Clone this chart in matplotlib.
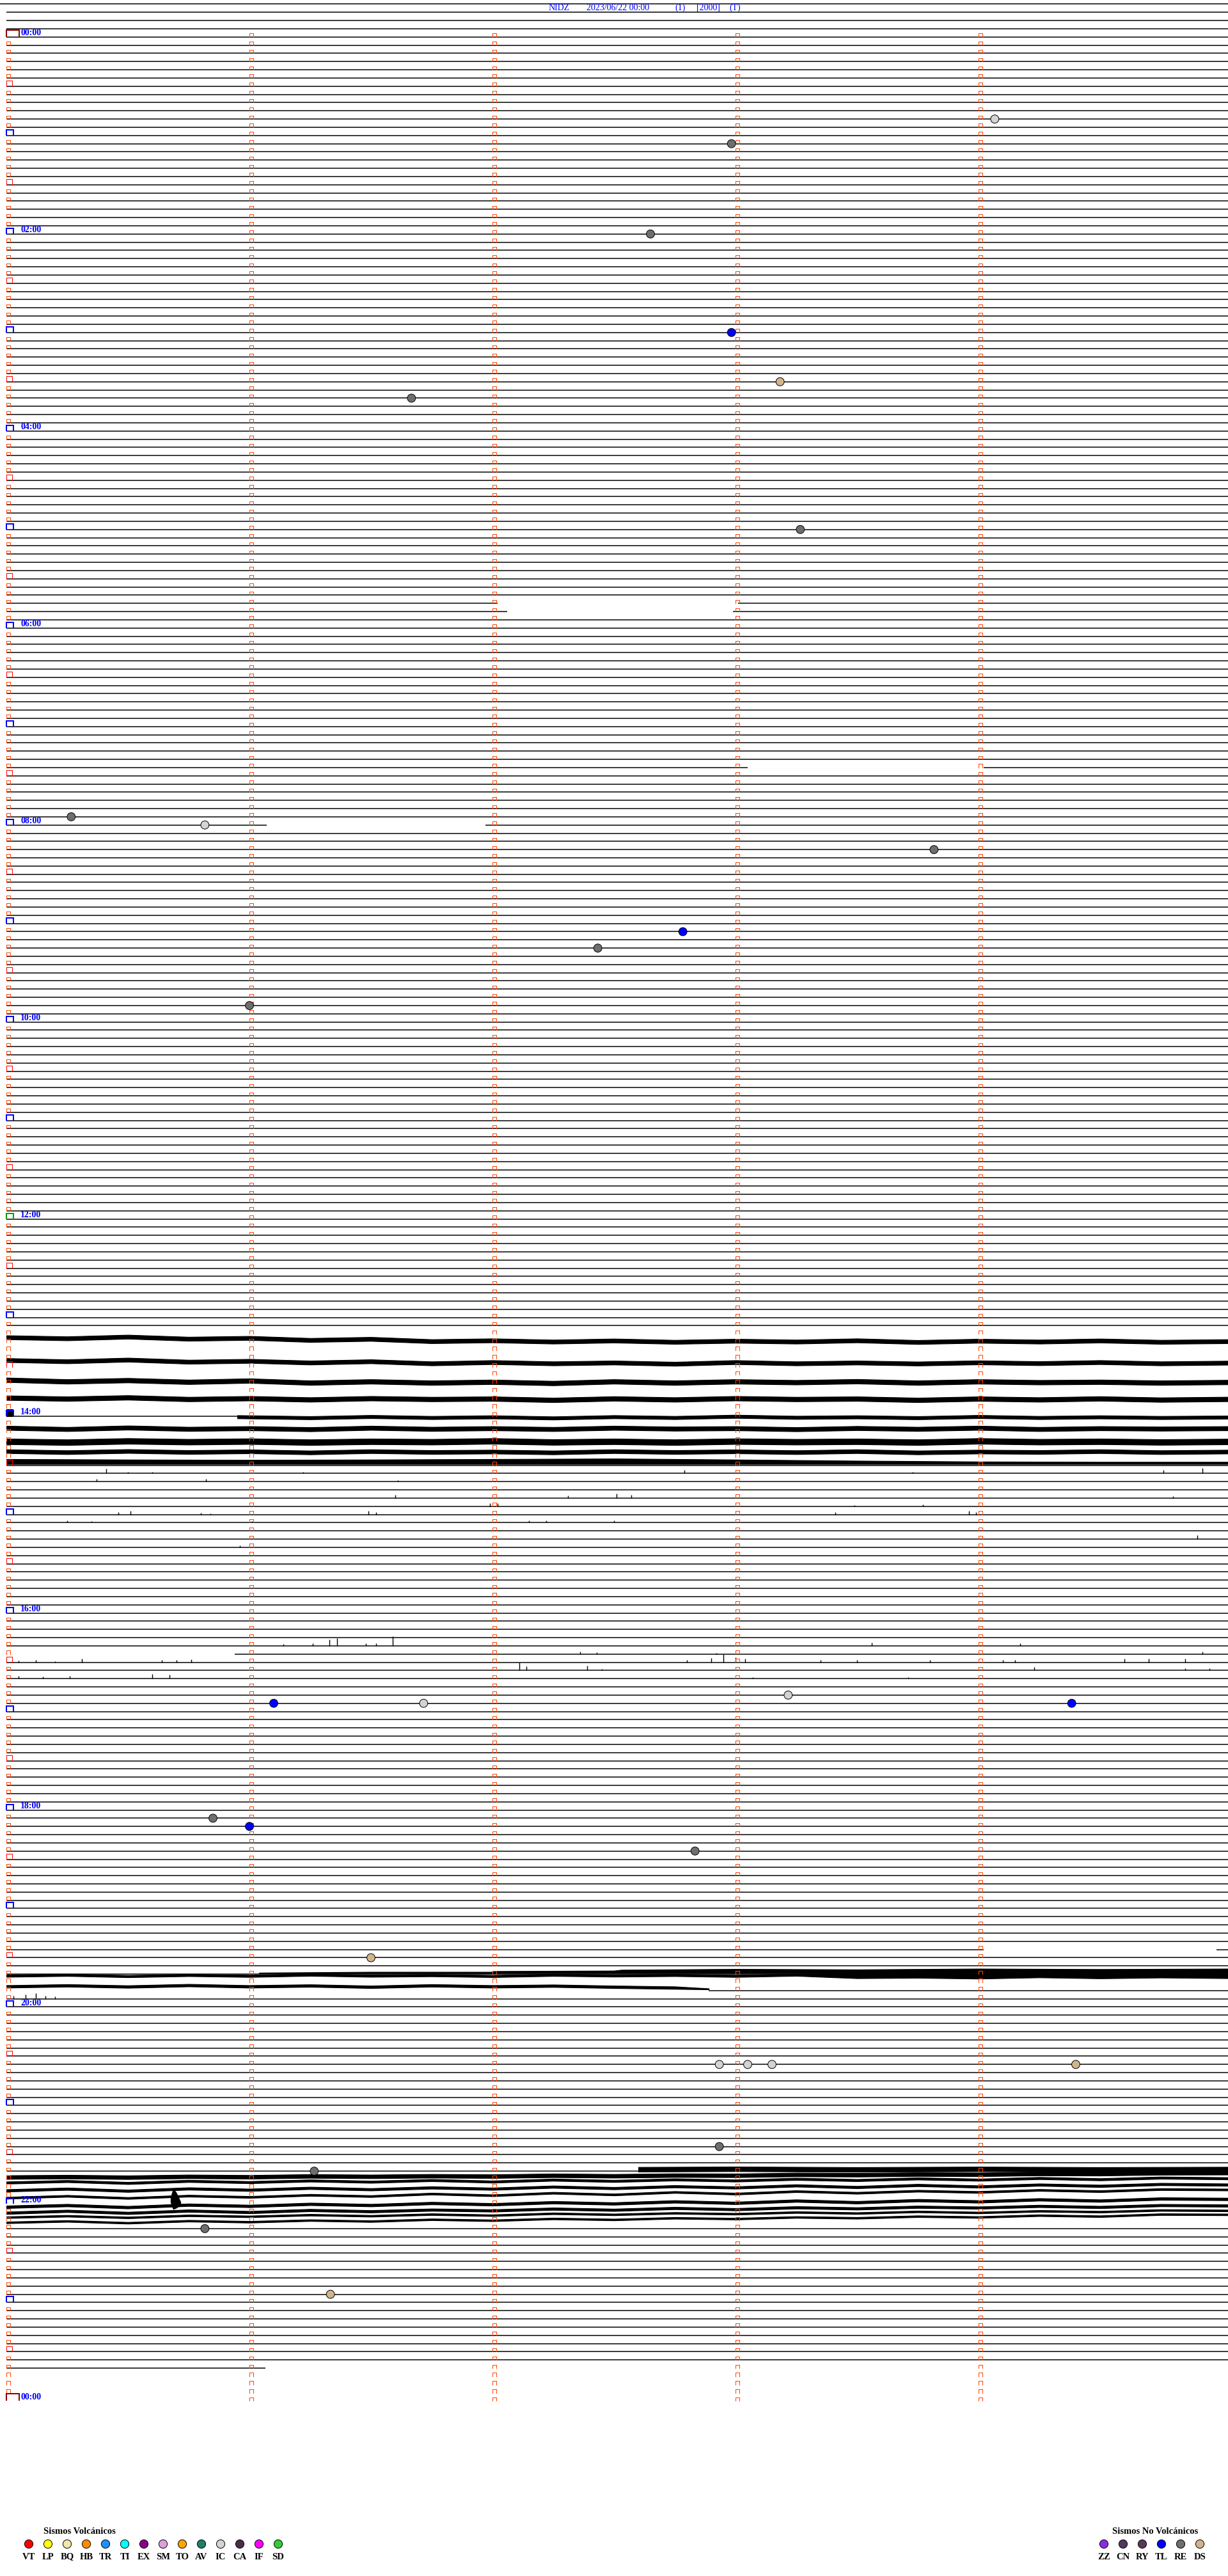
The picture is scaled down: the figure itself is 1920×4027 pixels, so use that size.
import matplotlib
matplotlib.use("Agg")
import matplotlib.pyplot as plt
from matplotlib.collections import LineCollection
import numpy as np

# ======================= DATA =======================
TITLE_ITEMS = ["NIDZ", "2023/06/22 00:00", "(1)", "[2000]", "(T)"]

MIN_PER_LINE = 5
TRACE_FIRST = "-00:20"      # first drawn trace line (previous day 23:40)
TRACE_LAST = "23:40"        # last trace line with data
DATA_END = "23:41:04"       # end of data on the last line
MARK_FIRST = "00:00"
MARK_LAST = "24:00"
HOUR_LABEL_TIMES = ["00:00", "02:00", "04:00", "06:00", "08:00", "10:00", "12:00",
                    "14:00", "16:00", "18:00", "20:00", "22:00", "24:00"]
HOUR_LABEL_TEXT = ["00:00", "02:00", "04:00", "06:00", "08:00", "10:00", "12:00",
                   "14:00", "16:00", "18:00", "20:00", "22:00", "00:00"]

# data gaps: (line time, start minute, end minute)
GAPS = [("05:45", 2.02, 3.01), ("05:50", 2.06, 2.99), ("07:25", 3.05, 4.02),
        ("08:00", 1.07, 1.97), ("16:25", 0.0, 0.94), ("19:25", 4.02, 4.98)]

# lines whose flat baseline is hidden (covered by shifted noisy traces)
HIDDEN_LINES = ["13:15", "13:20", "13:30", "13:40", "13:50", "13:55", "14:10"]

# noisy traces: (line time, knots [min], centre offset [rows], half width [rows], replaces baseline)
K21 = [0, 0.25, 0.5, 0.75, 1, 1.25, 1.5, 1.75, 2, 2.25, 2.5, 2.75, 3, 3.25, 3.5, 3.75, 4, 4.25, 4.5, 4.75, 5.03]
K_E = [0.95, 1.25, 1.5, 1.75, 2, 2.25, 2.5, 2.75, 3, 3.25, 3.5, 3.75, 4, 4.25, 4.5, 4.75, 5.03]
BANDS = [
    ("13:10", K21, [0.42, 0.55, 0.35, 0.6, 0.5, 0.75, 0.62, 0.9, 0.8, 0.95, 0.82, 0.98, 0.85, 0.95, 0.8, 1.0,
                    0.85, 0.95, 0.82, 0.98, 0.9], [0.24] * 21, True),
    ("13:25", K21, [0.2, 0.35, 0.15, 0.4, 0.3, 0.5, 0.35, 0.6, 0.45, 0.6, 0.5, 0.65, 0.45, 0.6, 0.5, 0.62,
                    0.48, 0.58, 0.45, 0.6, 0.52], [0.24] * 21, True),
    ("13:35", K21, [0.6, 0.8, 0.65, 0.85, 0.7, 0.95, 0.8, 0.95, 0.85, 1.0, 0.8, 0.95, 0.8, 0.9, 0.78, 0.95,
                    0.8, 0.9, 0.85, 0.95, 0.88], [0.27] * 21, True),
    ("13:45", K21, [0.78, 0.9, 0.75, 0.95, 0.85, 1.0, 0.85, 0.95, 0.9, 1.05, 0.88, 1.0, 0.85, 0.95, 0.9, 1.05,
                    0.9, 1.0, 0.88, 1.02, 0.94], [0.27] * 21, True),
    ("14:00", [0, 0.026], [-0.4, -0.4], [0.4, 0.4], False),
    ("14:00", K_E, [0.1, 0.22, 0.08, 0.2, 0.12, 0.25, 0.1, 0.2, 0.05, 0.18, 0.12, 0.22, 0.08, 0.2, 0.12, 0.2,
                    0.15], [0.19] * 17, True),
    ("14:05", K21, [0.45, 0.6, 0.42, 0.58, 0.5, 0.62, 0.45, 0.58, 0.5, 0.6, 0.45, 0.55, 0.5, 0.62, 0.48, 0.58,
                    0.45, 0.6, 0.5, 0.55, 0.5], [0.25] * 21, True),
    ("14:15", K21, [0.1, 0.2, 0.05, 0.15, 0.08, 0.2, 0.1, 0.15, 0.05, 0.18, 0.1, 0.2, 0.08, 0.15, 0.1, 0.2,
                    0.05, 0.15, 0.1, 0.18, 0.12], [0.34] * 21, True),
    ("14:20", K21, [0.3, 0.42, 0.28, 0.4, 0.32, 0.45, 0.3, 0.4, 0.35, 0.45, 0.3, 0.4, 0.32, 0.42, 0.3, 0.45,
                    0.35, 0.4, 0.3, 0.42, 0.35], [0.23] * 21, True),
    ("14:25", [0, 0.5, 1, 1.5, 2, 2.5, 3, 3.5, 4, 4.5, 5.03],
              [0.55, 0.58, 0.6, 0.58, 0.55, 0.52, 0.58, 0.65, 0.7, 0.72, 0.72],
              [0.3, 0.27, 0.25, 0.27, 0.3, 0.33, 0.27, 0.2, 0.15, 0.13, 0.13], True),
    # 19:40 - 19:50
    ("19:40", [1.04, 1.5, 2.0, 2.01, 2.5, 2.53, 3, 3.5, 4, 4.5, 5.03],
              [-0.15, -0.2, -0.2, -0.25, -0.28, -0.33, -0.38, -0.35, -0.4, -0.37, -0.4],
              [0.03, 0.08, 0.08, 0.12, 0.15, 0.2, 0.25, 0.22, 0.27, 0.24, 0.27], False),
    ("19:45", K21, [-0.8, -0.9, -0.75, -0.88, -0.78, -0.92, -0.8, -0.86, -0.76, -0.9, -0.82, -0.88, -0.78,
                    -0.92, -0.8, -0.85, -0.75, -0.9, -0.78, -0.88, -0.8],
                   [0.13] * 14 + [0.3] * 7, True),
    ("19:50", [0, 0.25, 0.5, 0.75, 1, 1.25, 1.5, 1.75, 2, 2.25, 2.5, 2.75, 2.89],
              [-0.5, -0.62, -0.48, -0.65, -0.5, -0.6, -0.45, -0.62, -0.5, -0.58, -0.45, -0.35, -0.2],
              [0.15] * 12 + [0.06], True),
    # 21:40 - 22:10
    ("21:40", [2.6, 3, 3.5, 4, 4.5, 5.03], [-0.22, -0.27, -0.2, -0.26, -0.2, -0.24], [0.28] * 6, True),
    ("21:45", K21, [-0.27, -0.32, -0.25, -0.35, -0.3, -0.4, -0.35, -0.42, -0.38, -0.48, -0.42, -0.5, -0.48,
                    -0.58, -0.55, -0.62, -0.6, -0.7, -0.68, -0.78, -0.8], [0.22] * 21, True),
    ("21:50", K21, [-0.6, -0.78, -0.55, -0.8, -0.65, -0.85, -0.7, -0.9, -0.72, -0.95, -0.8, -0.98, -0.85,
                    -1.05, -0.9, -1.1, -0.95, -1.15, -1.0, -1.2, -1.12], [0.13] * 21, True),
    ("21:55", K21, [-0.65, -0.85, -0.6, -0.88, -0.72, -0.95, -0.78, -1.0, -0.85, -1.1, -0.92, -1.15, -1.0,
                    -1.25, -1.05, -1.3, -1.12, -1.35, -1.2, -1.42, -1.35], [0.14] * 21, True),
    ("22:00", K21, [-0.75, -0.98, -0.72, -1.0, -0.85, -1.1, -0.95, -1.25, -1.05, -1.35, -1.15, -1.45, -1.25,
                    -1.55, -1.35, -1.6, -1.45, -1.7, -1.55, -1.8, -1.75], [0.11] * 21, True),
    ("22:05", K21, [-0.65, -0.85, -0.6, -0.9, -0.75, -1.0, -0.85, -1.1, -0.95, -1.2, -1.05, -1.3, -1.12,
                    -1.4, -1.2, -1.45, -1.3, -1.55, -1.4, -1.65, -1.6], [0.15] * 21, True),
    ("22:05", [0.676, 0.686, 0.696, 0.706, 0.716], [-1.5, -1.6, -1.5, -1.3, -1.0], [0.3, 1.2, 1.0, 0.6, 0.25], False),
    ("22:10", K21, [-0.92, -1.15, -0.9, -1.18, -1.0, -1.25, -1.1, -1.3, -1.2, -1.42, -1.28, -1.5, -1.35,
                    -1.58, -1.45, -1.65, -1.55, -1.75, -1.62, -1.85, -1.8], [0.14] * 21, True),
    ("22:10", K21, [-0.38, -0.55, -0.35, -0.6, -0.48, -0.68, -0.55, -0.75, -0.62, -0.85, -0.72, -0.9, -0.8,
                    -1.0, -0.88, -1.08, -0.95, -1.15, -1.05, -1.25, -1.2], [0.1] * 21, False),
    ("22:10", K21, [0.25, 0.08, 0.3, 0.05, 0.18, -0.02, 0.1, -0.12, 0.0, -0.22, -0.1, -0.3, -0.2, -0.4,
                    -0.3, -0.5, -0.4, -0.62, -0.5, -0.75, -0.72], [0.1] * 21, False),
]

# spikes on quiet lines: line time -> [(minute, height in rows)]
SPIKES = {
    "14:35": [(0.41, 0.55), (0.5, 0.2), (0.6, 0.2), (1.22, 0.15), (2.79, 0.4), (3.73, 0.15), (4.76, 0.4), (4.92, 0.68)],
    "14:40": [(0.37, 0.3), (0.82, 0.3), (1.61, 0.2)],
    "14:50": [(1.6, 0.4), (2.31, 0.3), (2.51, 0.55), (2.57, 0.4), (4.8, 0.25)],
    "14:55": [(1.99, 0.4), (2.02, 0.35), (3.49, 0.15), (3.77, 0.25)],
    "15:00": [(0.46, 0.25), (0.51, 0.4), (0.8, 0.2), (0.84, 0.15), (1.49, 0.45), (1.52, 0.3),
              (3.41, 0.25), (3.96, 0.4), (3.99, 0.3)],
    "15:05": [(0.25, 0.25), (0.35, 0.2), (1.01, 0.2), (2.15, 0.25), (2.22, 0.25), (2.5, 0.25)],
    "15:15": [(4.9, 0.45)],
    "15:20": [(0.96, 0.25)],
    "16:20": [(1.14, 0.25), (1.26, 0.3), (1.33, 0.8), (1.36, 0.95), (1.48, 0.3), (1.52, 0.3),
              (1.59, 1.15), (3.56, 0.4), (4.17, 0.3)],
    "16:25": [(2.36, 0.25), (2.43, 0.2), (2.92, 0.15), (4.92, 0.25)],
    "16:30": [(0.05, 0.2), (0.12, 0.25), (0.2, 0.15), (0.31, 0.4), (0.64, 0.3), (0.7, 0.3), (0.76, 0.35),
              (2.8, 0.3), (2.9, 0.5), (2.95, 1.0), (3.0, 0.6), (3.04, 0.45), (3.35, 0.3), (3.5, 0.25),
              (3.8, 0.25), (4.1, 0.3), (4.15, 0.3), (4.6, 0.4), (4.7, 0.45), (4.85, 0.4)],
    "16:35": [(2.11, 0.95), (2.14, 0.5), (2.39, 0.6), (2.45, 0.2), (4.23, 0.4), (4.85, 0.3), (4.95, 0.3)],
    "16:40": [(0.05, 0.3), (0.15, 0.25), (0.26, 0.35), (0.6, 0.55), (0.67, 0.45), (3.07, 0.2), (3.71, 0.15)],
    "19:55": [(0.03, 0.4), (0.08, 0.55), (0.12, 0.7), (0.16, 0.4), (0.2, 0.3)],
}

# classified events
EVENT_TIMES = ["00:54:04", "01:07:59", "02:02:39", "03:02:59", "03:33:11", "03:41:40", "05:03:16",
               "07:55:16", "08:00:49", "08:18:49", "09:07:47", "09:17:26", "09:51:00", "16:53:13",
               "16:56:06", "16:56:43", "16:59:23", "18:05:51", "18:11:00", "18:27:50", "19:31:30",
               "20:37:56", "20:38:03", "20:38:09", "20:39:24", "21:27:56", "21:41:16", "22:15:49",
               "22:56:20"]
EVENT_TYPES = ["IC", "RE", "RE", "TL", "DS", "RE", "RE", "RE", "IC", "RE", "TL", "RE", "RE", "IC",
               "TL", "IC", "TL", "RE", "TL", "RE", "DS", "IC", "IC", "IC", "DS", "RE", "RE", "RE", "DS"]

VOLC_TITLE = "Sismos Volcánicos"
VOLC_CODES = ["VT", "LP", "BQ", "HB", "TR", "TI", "EX", "SM", "TO", "AV", "IC", "CA", "IF", "SD"]
VOLC_COLORS = ["#FF0000", "#FFFF00", "#EEE8AA", "#FF8C00", "#1E90FF", "#00FFFF", "#8B008B",
               "#DDA0DD", "#FFA500", "#1F7F6A", "#D3D3D3", "#4B2D4B", "#FF00FF", "#32CD32"]
NONVOLC_TITLE = "Sismos No Volcánicos"
NONVOLC_CODES = ["ZZ", "CN", "RY", "TL", "RE", "DS"]
NONVOLC_COLORS = ["#8A2BE2", "#4E3A5E", "#5A3858", "#0000FF", "#6E6E6E", "#D2B48C"]

# ======================= LAYOUT =======================
W, H, DPI = 1920, 4027, 100
PX_MIN = 380.0      # pixels per minute
X0 = 10.0           # left edge of traces (px)
ROW = 12.832        # pixels per line
Y0 = 57.8           # pixel row of the 00:00 line
LINE_OVER = (W - X0) / PX_MIN   # lines run to the right edge
LW = 1.08           # 1.5 px


def tmin(s):
    neg = s.startswith("-")
    p = [float(v) for v in s.lstrip("-").split(":")]
    v = p[0] * 60 + p[1] + (p[2] / 60 if len(p) > 2 else 0)
    return -v if neg else v


def slot(s):
    return int(np.floor(tmin(s) / MIN_PER_LINE + 1e-9))


fig = plt.figure(figsize=(W / DPI, H / DPI), dpi=DPI)
ax = fig.add_axes([0, 0, 1, 1])
ax.set_axis_off()
ax.set_xlim(-X0 / PX_MIN, (W - X0) / PX_MIN)
ax.set_ylim((H - Y0) / ROW, -Y0 / ROW)
px_x = 1.0 / PX_MIN
px_y = 1.0 / ROW

# ---------- flat trace lines ----------
cut = {}
for t, a, b in GAPS:
    cut.setdefault(slot(t), []).append((a, b))
for t, xs, cen, hw, rep in BANDS:
    if rep:
        cut.setdefault(slot(t), []).append((xs[0], xs[-1]))
hidden = {slot(t) for t in HIDDEN_LINES}

s_first, s_last = slot(TRACE_FIRST), slot(TRACE_LAST)
end_last = tmin(DATA_END) - MIN_PER_LINE * s_last
segs = []
for s in range(s_first, s_last + 1):
    if s in hidden:
        continue
    x0 = -X0 / PX_MIN if s == s_first else 0.0
    x1 = end_last if s == s_last else LINE_OVER
    pieces = [(x0, x1)]
    for a, b in sorted(cut.get(s, [])):
        new = []
        for p0, p1 in pieces:
            if b <= p0 or a >= p1:
                new.append((p0, p1))
            else:
                if a > p0:
                    new.append((p0, a))
                if b < p1:
                    new.append((b, p1))
        pieces = new
    for p0, p1 in pieces:
        segs.append([(p0, s), (p1, s)])
ax.add_collection(LineCollection(segs, colors="black", linewidths=LW, zorder=2))

# ---------- noisy traces ----------
for t, xs, cen, hw, rep in BANDS:
    s = slot(t)
    ax.fill_between(xs, [s + c - w for c, w in zip(cen, hw)], [s + c + w for c, w in zip(cen, hw)],
                    color="black", lw=0.8, zorder=2)

# ---------- spikes ----------
sp_segs = []
for t, lst in SPIKES.items():
    s = slot(t)
    for m, h in lst:
        sp_segs.append([(m, s), (m, s - h)])
ax.add_collection(LineCollection(sp_segs, colors="black", linewidths=1.0, zorder=2))

# ---------- time marks ----------
def bracket(x, y, w, h):
    return [(x, y), (x, y - h), (x + w, y - h), (x + w, y)]

mk = {"small": [], "half": [], "hour": [], "day": [], "noon": []}
for s in range(slot(MARK_FIRST), slot(MARK_LAST) + 1):
    for m in range(MIN_PER_LINE):
        if m == 0 and s % 288 == 0:
            mk["day"].append(bracket(m, s, 20 * px_x, 11 * px_y))
        elif m == 0 and s % 144 == 0:
            mk["noon"].append(bracket(m, s, 11 * px_x, 9 * px_y))
        elif m == 0 and s % 12 == 0:
            mk["hour"].append(bracket(m, s, 11 * px_x, 9 * px_y))
        elif m == 0 and s % 6 == 0:
            mk["half"].append(bracket(m, s, 8.5 * px_x, 8.5 * px_y))
        else:
            mk["small"].append(bracket(m, s, 5.5 * px_x, 5.5 * px_y))
styles = {"small": ("#FF4500", 1.0), "half": ("#FF0000", 1.0), "hour": ("#0000FF", 1.8),
          "day": ("#8B0000", 2.0), "noon": ("#00A000", 1.8)}
for k, lst in mk.items():
    c, lw = styles[k]
    ax.add_collection(LineCollection(lst, colors=c, linewidths=lw * 0.72, antialiased=False, zorder=3))

# hour labels
for t, lab in zip(HOUR_LABEL_TIMES, HOUR_LABEL_TEXT):
    ax.text((32 - X0) * px_x, slot(t) - 6 * px_y, lab, color="#0000FF", fontsize=10,
            fontfamily="Liberation Serif", fontweight="bold", va="center", ha="left", zorder=4)

# ---------- events ----------
color_of = dict(zip(VOLC_CODES + NONVOLC_CODES, VOLC_COLORS + NONVOLC_COLORS))
ev_x, ev_y, ev_c = [], [], []
for t, k in zip(EVENT_TIMES, EVENT_TYPES):
    tm = tmin(t)
    s = int(tm // MIN_PER_LINE)
    ev_x.append(tm - s * MIN_PER_LINE)
    ev_y.append(s)
    ev_c.append(color_of[k])
ax.scatter(ev_x, ev_y, s=85, c=ev_c, edgecolors="black", linewidths=0.7, zorder=5)

# ---------- title ----------
title_x = [858, 917, 1055, 1089, 1140]
for x, txt in zip(title_x, TITLE_ITEMS):
    fig.text(x / W, 1 - 12.5 / H, txt, color="#0000FF", fontsize=10,
             fontfamily="Liberation Serif", va="center", ha="left")

# ---------- legend ----------
lax = fig.add_axes([0, 0, 1, 1])
lax.set_axis_off()
lax.set_xlim(0, W)
lax.set_ylim(H, 0)
lax.patch.set_alpha(0)


def legend_row(title, codes, colors, x_first, title_x):
    xs = [x_first + 30 * i for i in range(len(codes))]
    lax.scatter(xs, [3977] * len(xs), s=90, c=colors, edgecolors="black", linewidths=0.7)
    for x, c in zip(xs, codes):
        lax.text(x, 3997, c, ha="center", va="center", fontsize=10.5,
                 fontfamily="Liberation Serif", fontweight="bold")
    lax.text(title_x, 3957, title, ha="center", va="center", fontsize=10.5,
             fontfamily="Liberation Serif", fontweight="bold")


legend_row(VOLC_TITLE, VOLC_CODES, VOLC_COLORS, 45, 124)
legend_row(NONVOLC_TITLE, NONVOLC_CODES, NONVOLC_COLORS, 1726, 1806)

fig.savefig("out.png", dpi=DPI, facecolor="white")
